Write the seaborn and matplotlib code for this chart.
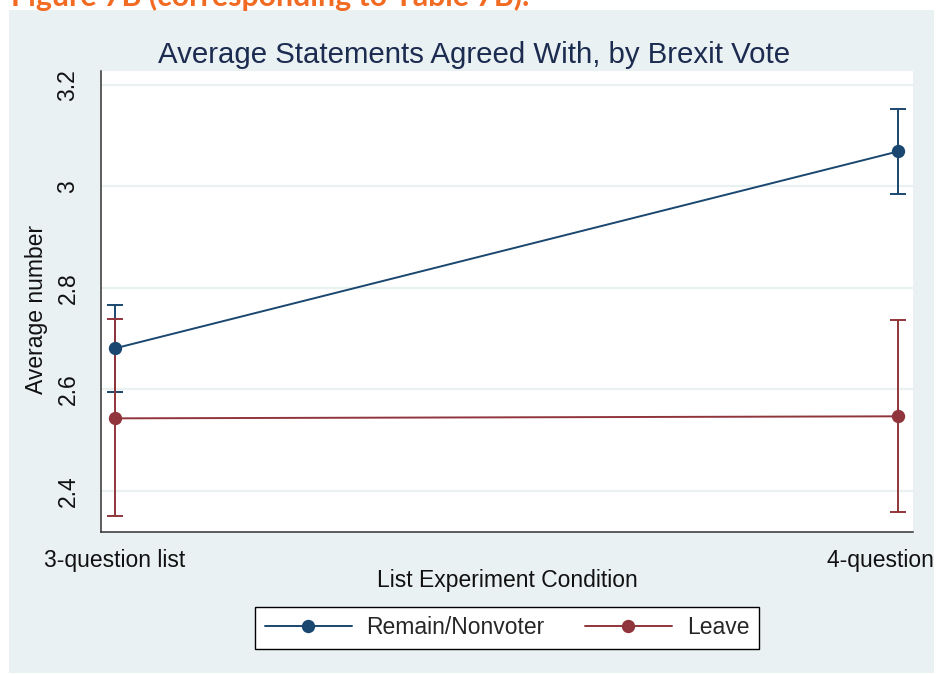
import numpy as np
import pandas as pd
import matplotlib
matplotlib.use("Agg")
import matplotlib.pyplot as plt
import seaborn as sns
from matplotlib.patches import Rectangle
from matplotlib.lines import Line2D

# ---- data ----
conditions = ["3-question list", "4-question list"]
groups = ["Remain/Nonvoter", "Leave"]
remain_mean = [2.681, 3.069]
remain_lo = [2.594, 2.985]
remain_hi = [2.767, 3.153]
leave_mean = [2.543, 2.547]
leave_lo = [2.351, 2.358]
leave_hi = [2.738, 2.736]
yticks = [2.4, 2.6, 2.8, 3.0, 3.2]
ytick_labels = ["2.4", "2.6", "2.8", "3", "3.2"]

NAVY = "#1a476f"
MAROON = "#90353b"
BG = "#eaf1f3"
GRID = "#eaf1f3"

W, H = 949, 674
def fx(px): return px / W
def fy(py): return 1 - py / H

sns.set_theme(style="white")
plt.rcParams["font.family"] = ["Liberation Sans", "DejaVu Sans"]

fig = plt.figure(figsize=(W / 100, H / 100), dpi=100, facecolor="white")

# outer panel background
fig.add_artist(Rectangle((fx(9), fy(673)), fx(934) - fx(9), fy(10) - fy(673),
                         transform=fig.transFigure, facecolor=BG,
                         edgecolor="none", zorder=-10))

fig.text(fx(11), fy(6), "Figure 7B (corresponding to Table 7B).",
         color="#f26b23", fontsize=21.8, fontweight="bold",
         family=["Lato", "DejaVu Sans"], ha="left", va="baseline")

ax = fig.add_axes([fx(101), fy(532), fx(913) - fx(101), fy(71) - fy(532)])
ax.set_facecolor("white")

df = pd.DataFrame({
    "pos": [0, 1, 0, 1],
    "mean": remain_mean + leave_mean,
    "group": [groups[0]] * 2 + [groups[1]] * 2,
})

# confidence intervals
ax.errorbar([0, 1], remain_mean,
            yerr=[np.array(remain_mean) - np.array(remain_lo),
                  np.array(remain_hi) - np.array(remain_mean)],
            fmt="none", ecolor=NAVY, elinewidth=1.4, capsize=5.5,
            capthick=1.4, zorder=2)
ax.errorbar([0, 1], leave_mean,
            yerr=[np.array(leave_mean) - np.array(leave_lo),
                  np.array(leave_hi) - np.array(leave_mean)],
            fmt="none", ecolor=MAROON, elinewidth=1.4, capsize=5.5,
            capthick=1.4, zorder=2.1)

sns.lineplot(data=df, x="pos", y="mean", hue="group",
             palette={groups[0]: NAVY, groups[1]: MAROON},
             marker="o", markersize=9.6, markeredgewidth=0,
             linewidth=1.4, legend=False, ax=ax, zorder=3)

ax.set_xlim(-0.0179, 1.0192)
ax.set_ylim(2.319, 3.2276)
ax.set_xticks([0, 1])
ax.set_xticklabels(conditions)
ax.set_yticks(yticks)
ax.set_yticklabels(ytick_labels, rotation=90, va="center")
ax.yaxis.grid(True, color=GRID, linewidth=1.6)
ax.xaxis.grid(False)
ax.set_axisbelow(True)
for s in ["top", "right"]:
    ax.spines[s].set_visible(False)
for s in ["left", "bottom"]:
    ax.spines[s].set_color("#333333")
    ax.spines[s].set_linewidth(1.1)
ax.tick_params(axis="both", direction="out", length=6.5, width=1.0,
               color="#444444", labelsize=16.5, labelcolor="#111111")
ax.tick_params(axis="y", pad=9)
ax.tick_params(axis="x", pad=6)
ax.set_xlabel("")
ax.set_ylabel("")

fig.text(fx(37), fy(309), "Average number", rotation=90, fontsize=16.5,
         color="#111111", ha="center", va="center")
fig.text(fx(507), fy(581), "List Experiment Condition", fontsize=16.5,
         color="#111111", ha="center", va="center")
fig.text(fx(474), fy(63), "Average Statements Agreed With, by Brexit Vote",
         fontsize=21.2, color="#1c2b50", ha="center", va="baseline")

handles = [Line2D([], [], color=NAVY, marker="o", markersize=9.6,
                  markeredgewidth=0, linewidth=1.4),
           Line2D([], [], color=MAROON, marker="o", markersize=9.6,
                  markeredgewidth=0, linewidth=1.4)]
leg = fig.legend(handles, groups, loc="center",
                 bbox_to_anchor=(fx(507), fy(628)), ncol=2, frameon=True,
                 fancybox=False, edgecolor="black", facecolor="white",
                 fontsize=16.5, handlelength=3.8, handletextpad=0.65,
                 columnspacing=1.75, borderpad=0.4, framealpha=1)
leg.get_frame().set_linewidth(1.0)

# crop at the right edge like the reference
fig.add_artist(Rectangle((fx(934), 0), 1 - fx(934), 1,
                         transform=fig.transFigure, facecolor="white",
                         edgecolor="none", zorder=100))

fig.savefig("out.png", dpi=100, facecolor="white")
